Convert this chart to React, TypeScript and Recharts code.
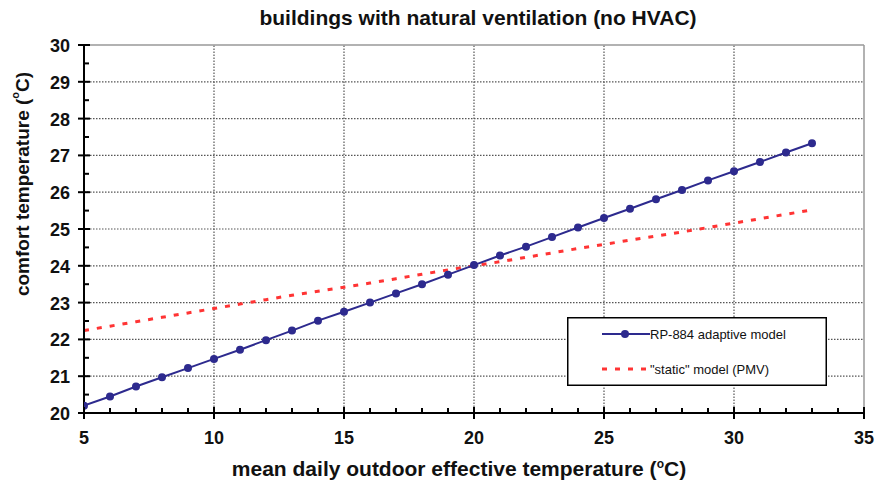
import React from 'react';
import { LineChart, Line, XAxis, YAxis, ReferenceLine, Legend, Label } from 'recharts';

const xValues = [5, 6, 7, 8, 9, 10, 11, 12, 13, 14, 15, 16, 17, 18, 19, 20, 21, 22, 23, 24, 25, 26, 27, 28, 29, 30, 31, 32, 33];
const adaptiveModel = [20.2, 20.45, 20.72, 20.97, 21.22, 21.47, 21.72, 21.98, 22.24, 22.51, 22.75, 23.0, 23.25, 23.5, 23.76, 24.02, 24.28, 24.52, 24.78, 25.04, 25.3, 25.55, 25.81, 26.06, 26.32, 26.57, 26.82, 27.08, 27.33];
const staticModel = [22.24, 22.36, 22.48, 22.6, 22.72, 22.84, 22.96, 23.08, 23.2, 23.31, 23.42, 23.53, 23.65, 23.77, 23.89, 24.0, 24.11, 24.23, 24.35, 24.47, 24.58, 24.7, 24.81, 24.92, 25.04, 25.16, 25.28, 25.4, 25.52];
const seriesNames = ['RP-884 adaptive model', '"static" model (PMV)'];

const xTicks = [5, 6, 7, 8, 9, 10, 11, 12, 13, 14, 15, 16, 17, 18, 19, 20, 21, 22, 23, 24, 25, 26, 27, 28, 29, 30, 31, 32, 33, 34, 35];
const xMajorTicks = [5, 10, 15, 20, 25, 30, 35];
const yTicks = [20, 20.5, 21, 21.5, 22, 22.5, 23, 23.5, 24, 24.5, 25, 25.5, 26, 26.5, 27, 27.5, 28, 28.5, 29, 29.5, 30];
const yMajorTicks = [20, 21, 22, 23, 24, 25, 26, 27, 28, 29, 30];

const data = xValues.map((x, i) => ({ x, adaptive: adaptiveModel[i], pmv: staticModel[i] }));

const FONT = '"Liberation Sans", Arial, Helvetica, sans-serif';
const BLUE = '#2d2a8e';
const RED = '#ff3434';

const XTick = (props: any) => {
  const { x, y, payload } = props;
  const major = payload.value % 5 === 0;
  return (
    <g>
      <line x1={x} x2={x} y1={major ? y - 6 : y - 5} y2={major ? y + 6 : y + 1} stroke="#000" strokeWidth={2} />
      {major && (
        <text x={x} y={y + 31} textAnchor="middle" fontFamily={FONT} fontWeight="bold" fontSize={18} fill="#111">
          {payload.value}
        </text>
      )}
    </g>
  );
};

const YTick = (props: any) => {
  const { x, y, payload } = props;
  const major = Number.isInteger(payload.value);
  return (
    <g>
      <line x1={major ? x - 6 : x} x2={major ? x + 6 : x + 5} y1={y} y2={y} stroke="#000" strokeWidth={2} />
      {major && (
        <text x={x - 14} y={y + 7} textAnchor="end" fontFamily={FONT} fontWeight="bold" fontSize={18} fill="#111">
          {payload.value}
        </text>
      )}
    </g>
  );
};

const YTitle = (props: any) => {
  const cx = 22;
  const cy = 184;
  return (
    <text x={cx} y={cy} transform={`rotate(-90, ${cx}, ${cy})`} textAnchor="middle" dominantBaseline="central" fontFamily={FONT} fontWeight="bold" fontSize={19} fill="#111">
      comfort temperature (<tspan fontSize={11} dy={-7}>o</tspan><tspan dy={7}>C)</tspan>
    </text>
  );
};

const XTitle = (props: any) => {
  return (
    <text x={459} y={476} textAnchor="middle" fontFamily={FONT} fontWeight="bold" fontSize={21} fill="#111">
      mean daily outdoor effective temperature (<tspan fontSize={12} dy={-8}>o</tspan><tspan dy={8}>C)</tspan>
    </text>
  );
};

const LegendBox = () => (
  <svg width={260} height={69} style={{ display: 'block' }}>
    <rect x={0.75} y={0.75} width={258.5} height={67.5} fill="#fff" stroke="#000" strokeWidth={1.5} />
    <line x1={35} x2={83} y1={17} y2={17} stroke={BLUE} strokeWidth={2} />
    <circle cx={58} cy={17} r={4} fill={BLUE} />
    <text x={83} y={22} fontFamily={FONT} fontSize={13} fill="#111">{seriesNames[0]}</text>
    <line x1={35} x2={83} y1={52} y2={52} stroke={RED} strokeWidth={3} strokeDasharray="5 8" />
    <text x={83} y={57} fontFamily={FONT} fontSize={13} fill="#111">{seriesNames[1]}</text>
  </svg>
);

export default function App() {
  return (
    <div style={{ position: 'absolute', left: 0, top: 0, width: 880, height: 482, background: '#fff' }}>
      <div style={{ position: 'absolute', left: 0, top: 6, width: 956, textAlign: 'center', fontFamily: FONT, fontWeight: 'bold', fontSize: 21, color: '#111', whiteSpace: 'nowrap' }}>
        buildings with natural ventilation (no HVAC)
      </div>
      <LineChart width={880} height={482} data={data} margin={{ top: 45, right: 16, left: 0, bottom: 0 }}>
        <XAxis
          type="number"
          dataKey="x"
          domain={[5, 35]}
          ticks={xTicks}
          interval={0}
          tick={<XTick />}
          tickLine={false}
          tickSize={0}
          tickMargin={0}
          axisLine={{ stroke: '#000', strokeWidth: 2 }}
          height={69}
          allowDataOverflow
        >
          <Label content={<XTitle />} />
        </XAxis>
        <YAxis
          type="number"
          domain={[20, 30]}
          ticks={yTicks}
          interval={0}
          tick={<YTick />}
          tickLine={false}
          tickSize={0}
          tickMargin={0}
          axisLine={{ stroke: '#000', strokeWidth: 2 }}
          width={84}
          allowDataOverflow
        >
          <Label content={<YTitle />} />
        </YAxis>
        {xMajorTicks.slice(1, -1).map((v) => (
          <ReferenceLine key={'vx' + v} x={v} stroke="#555" strokeWidth={1.2} strokeDasharray="1.5 1.5" />
        ))}
        {yMajorTicks.slice(1, -1).map((v) => (
          <ReferenceLine key={'hy' + v} y={v} stroke="#555" strokeWidth={1.2} strokeDasharray="1.5 1.5" />
        ))}
        <ReferenceLine x={35} stroke="#999" strokeWidth={1.5} />
        <ReferenceLine y={30} stroke="#999" strokeWidth={1.5} />
        <Line
          type="linear"
          dataKey="pmv"
          name={seriesNames[1]}
          stroke={RED}
          strokeWidth={3}
          strokeDasharray="5 8"
          dot={false}
          isAnimationActive={false}
        />
        <Line
          type="linear"
          dataKey="adaptive"
          name={seriesNames[0]}
          stroke={BLUE}
          strokeWidth={2}
          dot={{ r: 4, fill: BLUE, stroke: BLUE, strokeWidth: 0 }}
          isAnimationActive={false}
        />
        <Legend
          layout="horizontal"
          verticalAlign="middle"
          align="center"
          content={<LegendBox />}
          wrapperStyle={{ position: 'absolute', left: 567, top: 317, width: 260, height: 69, right: 'auto', bottom: 'auto' }}
        />
      </LineChart>
    </div>
  );
}
